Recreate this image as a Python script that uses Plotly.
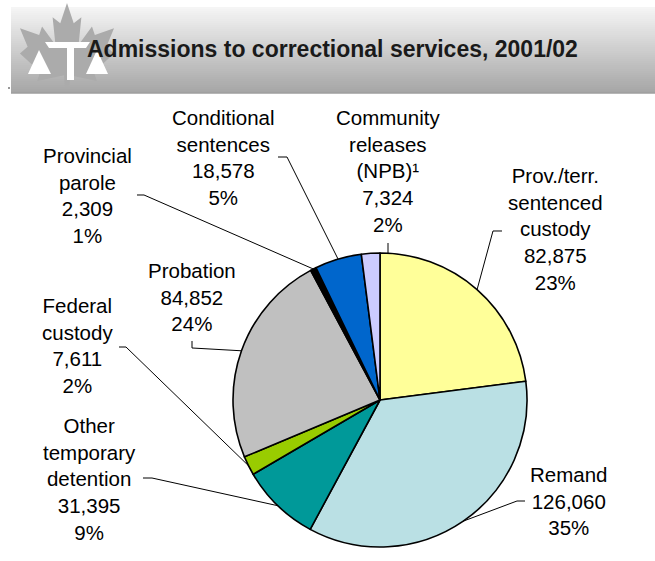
import math
import plotly.graph_objects as go

# ---- data -------------------------------------------------------------
categories = [
    "Prov./terr. sentenced custody",
    "Remand",
    "Other temporary detention",
    "Federal custody",
    "Probation",
    "Provincial parole",
    "Conditional sentences",
    "Community releases (NPB)¹",
]
admissions = [82875, 126060, 31395, 7611, 84852, 2309, 18578, 7324]
label_lines = [
    ["Prov./terr.", "sentenced", "custody"],
    ["Remand"],
    ["Other", "temporary", "detention"],
    ["Federal", "custody"],
    ["Probation"],
    ["Provincial", "parole"],
    ["Conditional", "sentences"],
    ["Community", "releases", "(NPB)¹"],
]
slice_colors = ["#FFFF99", "#BAE0E4", "#009999", "#99CC00",
                "#C0C0C0", "#000000", "#0066CC", "#CCCCFF"]
title_text = "Admissions to correctional services, 2001/02"

# ---- page geometry (pixels) ------------------------------------------
W, H = 655, 561
CX, CY, R = 380, 400, 147          # pie centre and radius


def px(x):
    return x / W


def py(y):
    return 1 - y / H


# label block centres and the label-side part of each leader line
label_layout = [
    dict(x=555, y=229, lead=[(502, 231), (493, 231)]),
    dict(x=569, y=501, lead=[(525, 501), (517, 501)]),
    dict(x=89, y=478.5, lead=[(143, 478), (152, 478)]),
    dict(x=77, y=345.5, lead=[(119, 347), (126, 347)]),
    dict(x=192, y=296.5, lead=[(192, 341), (192, 348)]),
    dict(x=87, y=195, lead=[(137, 195), (144, 195)]),
    dict(x=223, y=157.5, lead=[(278, 157), (287, 157)]),
    dict(x=388, y=171, lead=[(388, 243)], vertical=True),
]

total = sum(admissions)

fig = go.Figure()
fig.add_trace(go.Pie(
    labels=categories,
    values=admissions,
    sort=False,
    direction="clockwise",
    rotation=0,
    marker=dict(colors=slice_colors, line=dict(color="black", width=1.6)),
    textinfo="none",
    hoverinfo="label+value+percent",
    showlegend=False,
    domain=dict(x=[px(CX - R), px(CX + R)], y=[py(CY + R), py(CY - R)]),
))

shapes = []
annotations = []

# ---- header banner with vertical shading ------------------------------
top, bottom, left = 7, 93, 11
bands = 43
step = (bottom - top) / bands
for i in range(bands):
    t = i / (bands - 1)
    g = round(245 - t * (245 - 166))
    shapes.append(dict(
        type="rect", xref="paper", yref="paper", layer="below",
        x0=px(left), x1=px(W), y0=py(top + i * step), y1=py(top + (i + 1) * step + 0.6),
        fillcolor=f"rgb({g},{g},{g})", line=dict(width=0),
    ))
shapes.append(dict(type="line", xref="paper", yref="paper", layer="below",
                   x0=px(left), x1=px(W), y0=py(bottom), y1=py(bottom),
                   line=dict(color="#9a9a9a", width=1)))

# maple leaf emblem
leaf_right = [(0, 0), (0.14, 0.24), (0.30, 0.17), (0.24, 0.50), (0.52, 0.28),
              (0.58, 0.38), (0.98, 0.30), (0.82, 0.52), (0.98, 0.60),
              (0.56, 0.82), (0.62, 0.93), (0.06, 0.86), (0.05, 1.0)]
leaf = leaf_right + [(-u, v) for (u, v) in reversed(leaf_right)]
leaf_pts = [(67 + 48 * u, 3 + 84 * v) for (u, v) in leaf]
leaf_path = "M " + " L ".join(f"{px(x):.5f},{py(y):.5f}" for x, y in leaf_pts) + " Z"
shapes.append(dict(type="path", xref="paper", yref="paper", layer="below",
                   path=leaf_path, fillcolor="#ababab", line=dict(width=0)))


def poly(points, color="white"):
    p = "M " + " L ".join(f"{px(x):.5f},{py(y):.5f}" for x, y in points) + " Z"
    return dict(type="path", xref="paper", yref="paper", layer="below",
                path=p, fillcolor=color, line=dict(width=0))


# scales of justice in white
shapes.append(poly([(45, 42), (90, 42), (86, 48), (74, 48), (74, 80),
                    (67, 80), (67, 48), (49, 48)]))
shapes.append(poly([(39, 50), (51, 74), (28, 74)]))
shapes.append(poly([(97, 50), (108, 74), (86, 74)]))
shapes.append(dict(type="line", xref="paper", yref="paper",
                   x0=px(8), x1=px(10), y0=py(88), y1=py(88),
                   line=dict(color="#333", width=1)))

annotations.append(dict(
    text=f"<b>{title_text}</b>", xref="paper", yref="paper",
    x=px(85), y=py(49), xanchor="left", yanchor="middle", showarrow=False,
    font=dict(family="Liberation Sans, Arial, sans-serif", size=23, color="#1a1a1a"),
))

# ---- slice labels and leader lines ------------------------------------
cum = 0
for name_lines, value, lay in zip(label_lines, admissions, label_layout):
    share = value / total
    mid = (cum + value / 2) / total * 2 * math.pi
    cum += value
    pct = f"{round(share * 100)}%"
    text = "<br>".join(name_lines + [f"{value:,}", pct])
    annotations.append(dict(
        text=text, xref="paper", yref="paper", x=px(lay["x"]), y=py(lay["y"]),
        xanchor="center", yanchor="middle", align="center", showarrow=False,
        font=dict(family="Liberation Sans, Arial, sans-serif", size=20.5, color="black"),
    ))
    if lay.get("vertical"):
        x0 = lay["lead"][0][0]
        edge = (x0, CY - math.sqrt(R * R - (x0 - CX) ** 2))
    else:
        edge = (CX + R * math.sin(mid), CY - R * math.cos(mid))
    pts = lay["lead"] + [edge]
    path = "M " + " L ".join(f"{px(x):.5f},{py(y):.5f}" for x, y in pts)
    shapes.append(dict(type="path", xref="paper", yref="paper", path=path,
                       line=dict(color="black", width=1)))

fig.update_layout(
    width=W, height=H,
    margin=dict(l=0, r=0, t=0, b=0),
    paper_bgcolor="white", plot_bgcolor="white",
    shapes=shapes, annotations=annotations,
)

fig.write_html("out.html")
